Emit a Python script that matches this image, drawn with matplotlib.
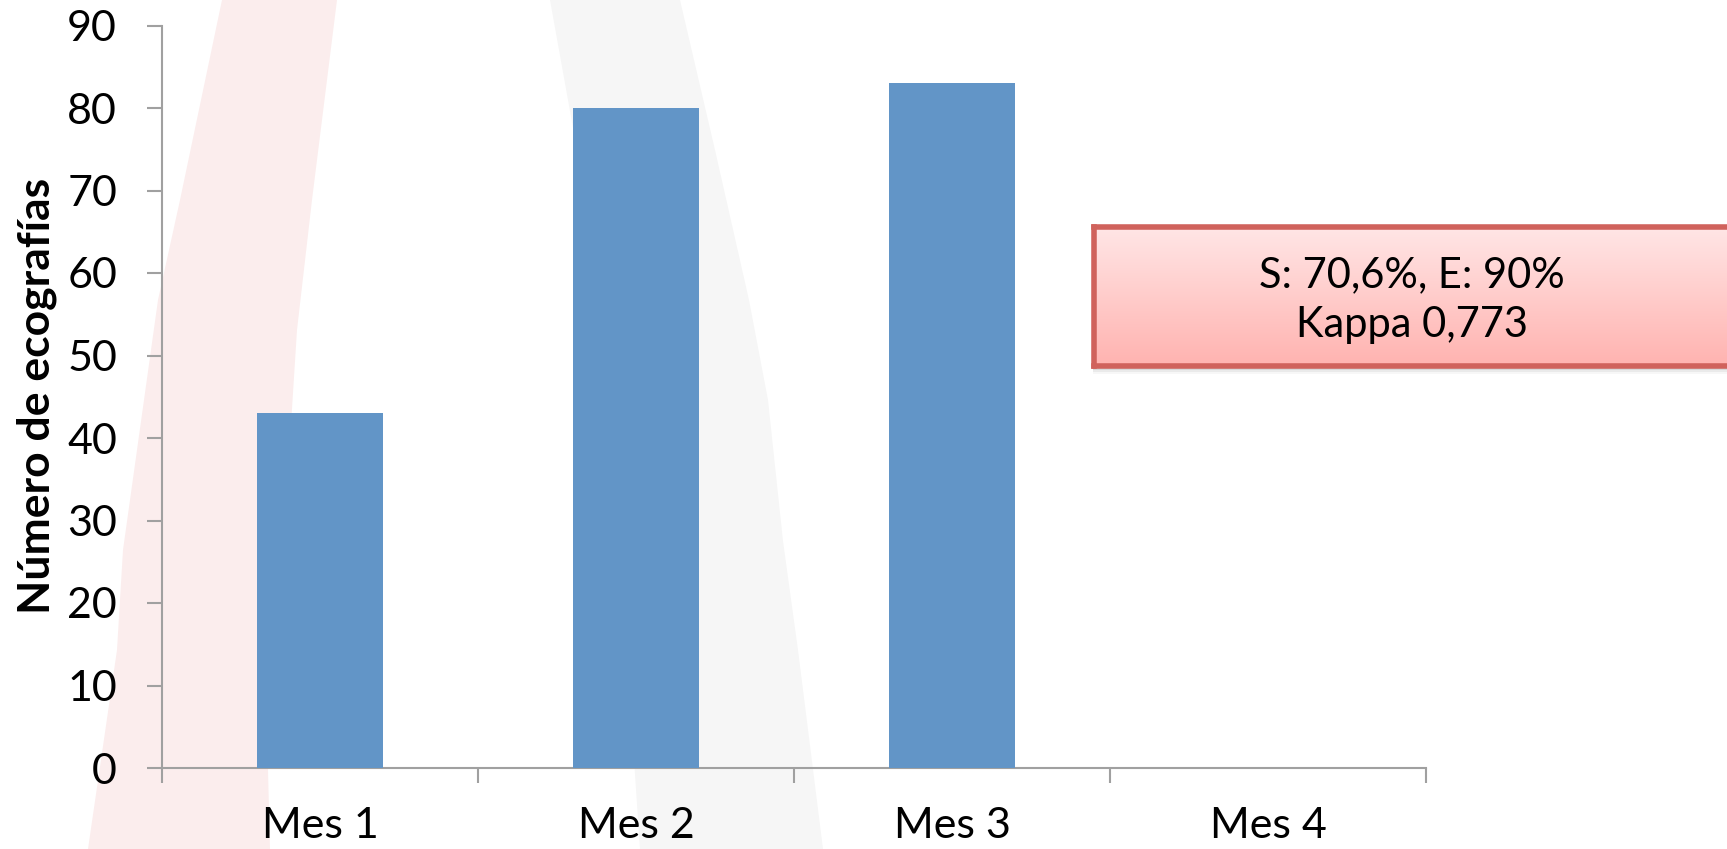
import numpy as np
import matplotlib.pyplot as plt
from matplotlib.patches import Polygon, Rectangle
from matplotlib.colors import LinearSegmentedColormap

# Datos
meses = ["Mes 1", "Mes 2", "Mes 3", "Mes 4"]
ecografias = [43, 80, 83, 0]
sens_esp = "S: 70,6%, E: 90%"
kappa = "Kappa 0,773"

W, H = 1727, 849
plt.rcParams['font.family'] = ['Lato', 'DejaVu Sans']

fig = plt.figure(figsize=(W / 100, H / 100), dpi=100)


def fx(x):
    return x / W


def fy(y):
    return 1 - y / H


def banda(izq, der, color):
    pts = [(fx(x), fy(y)) for x, y in izq] + [(fx(x), fy(y)) for x, y in der[::-1]]
    fig.patches.append(Polygon(pts, closed=True, transform=fig.transFigure,
                               facecolor=color, edgecolor='none', zorder=-10))


# bandas decorativas del fondo
banda([(222, 0), (180, 200), (158, 300), (123, 550), (117, 650), (88, 849)],
      [(337, 0), (312, 200), (297, 330), (283, 550), (268, 770), (270, 849)],
      '#FBEDED')
banda([(550, 0), (577, 150), (600, 350), (620, 550), (640, 849)],
      [(680, 0), (715, 150), (749, 300), (768, 400), (783, 541), (798, 650), (823, 849)],
      '#F6F6F6')

ax = fig.add_axes([fx(162), fy(768), fx(1426) - fx(162), (768 - 25.5) / H])
ax.patch.set_alpha(0)

x = np.arange(len(meses))
ax.bar(x, ecografias, width=0.4, color='#6295C7', zorder=3)

ax.set_xlim(-0.5, len(meses) - 0.5)
ax.set_ylim(0, 90)
ax.set_yticks(range(0, 91, 10))
ax.set_xticks(x, meses)
ax.set_xticks(np.arange(-0.5, len(meses), 1), minor=True)

for s in ['top', 'right']:
    ax.spines[s].set_visible(False)
for s in ['left', 'bottom']:
    ax.spines[s].set_color('#A0A0A0')
    ax.spines[s].set_linewidth(1.5)

ax.tick_params(axis='y', length=10.8, width=1.5, color='#A0A0A0', pad=21.6, labelsize=31)
ax.tick_params(axis='x', which='major', length=0, pad=28, labelsize=31)
ax.tick_params(axis='x', which='minor', length=10.8, width=1.5, color='#A0A0A0')

fig.text(fx(37), fy(396), "Número de ecografías", rotation=90, ha='center', va='center',
         fontsize=32, fontweight='bold')

# cuadro con los resultados
bx0, by0, bx1, by1 = 1094, 227, 1740, 366
for i, a in enumerate([0.10, 0.07, 0.05, 0.03]):
    d = 2 + 2 * i
    fig.patches.append(Rectangle((fx(bx0 - 1), fy(by1 + d)), fx(bx1) - fx(bx0), (by1 - by0) / H,
                                 transform=fig.transFigure, facecolor='black', alpha=a,
                                 edgecolor='none', zorder=-5))

bax = fig.add_axes([fx(bx0), fy(by1), fx(bx1) - fx(bx0), (by1 - by0) / H])
grad = np.linspace(0, 1, 128).reshape(-1, 1)
cmap = LinearSegmentedColormap.from_list('rosa', ['#FFE6E6', '#FFB3B0'])
bax.imshow(grad, aspect='auto', cmap=cmap, extent=[0, 1, 0, 1], origin='upper')
bax.set_xlim(0, 1)
bax.set_ylim(0, 1)
bax.set_xticks([])
bax.set_yticks([])
for s in bax.spines.values():
    s.set_color('#D0625C')
    s.set_linewidth(4)

cx = (1412 - bx0) / (bx1 - bx0)
bax.text(cx, (by1 - 275) / (by1 - by0), sens_esp, ha='center', va='center', fontsize=30)
bax.text(cx, (by1 - 325) / (by1 - by0), kappa, ha='center', va='center', fontsize=30)

fig.savefig('out.png', dpi=100)
